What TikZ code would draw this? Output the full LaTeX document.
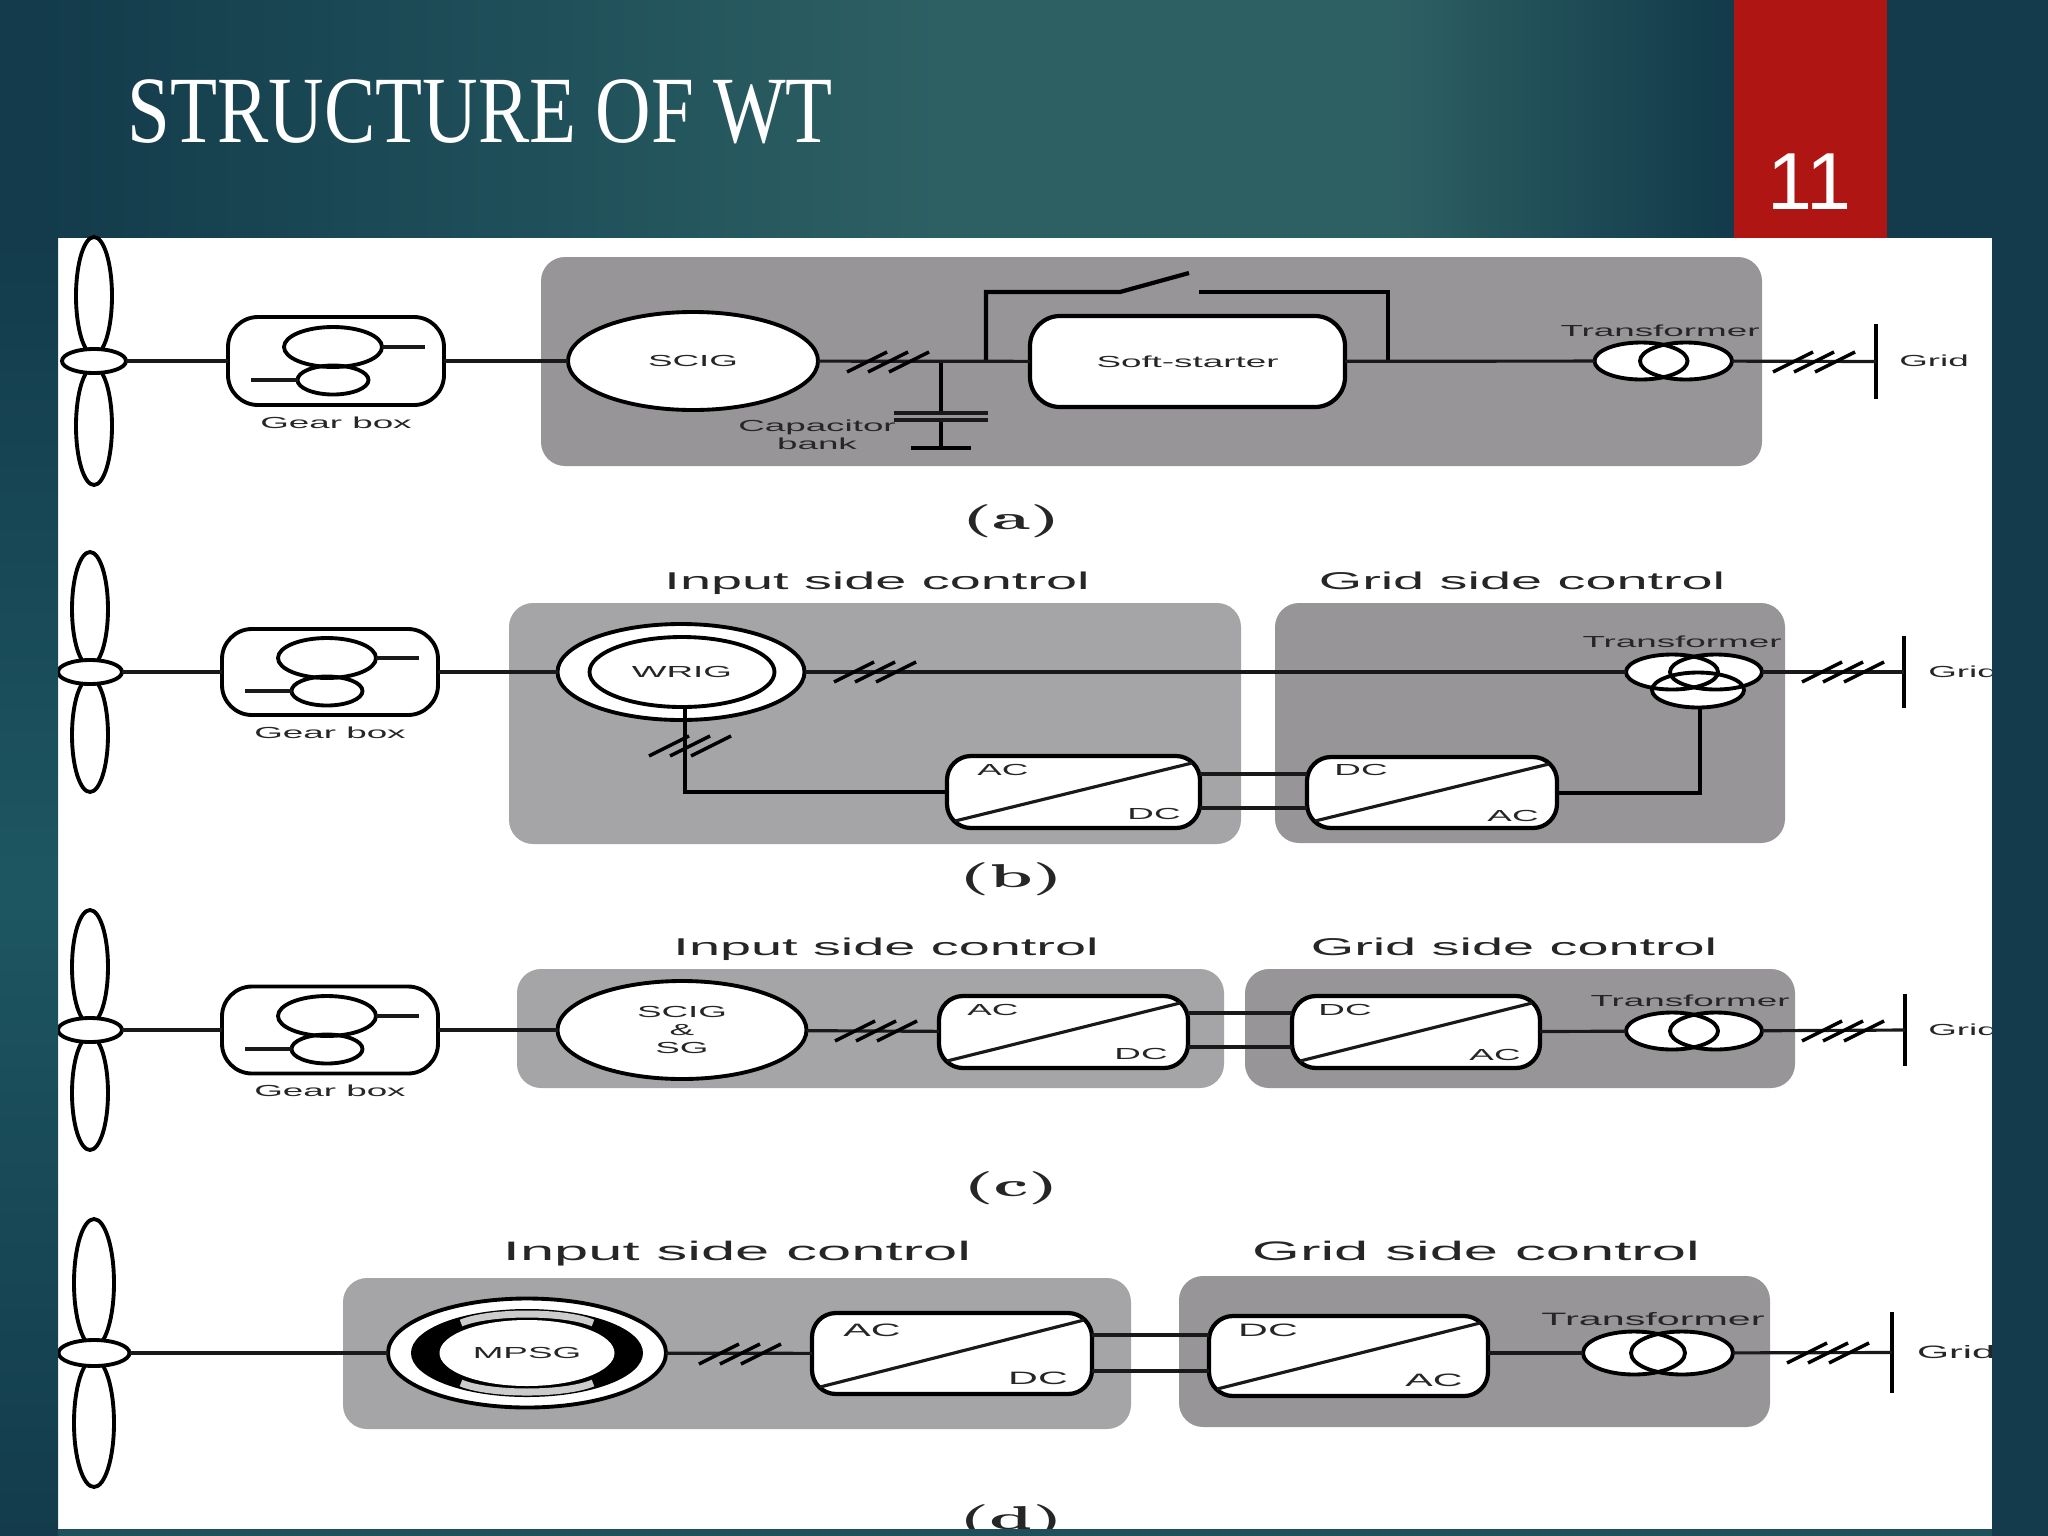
\documentclass[tikz,border=0pt]{standalone}
\usepackage{fontspec}
\usepackage{xcolor}
\usetikzlibrary{positioning,shapes.geometric,calc}
\newfontfamily\diagfont[FakeStretch=2.3]{Liberation Sans}
\newfontfamily\capfont[FakeStretch=2.0]{Latin Modern Roman}
\newfontfamily\titlefont[FakeStretch=0.81]{Liberation Serif}
\newfontfamily\numfont{Liberation Sans}
\definecolor{bgdark}{HTML}{133B4B}
\definecolor{bgmid}{HTML}{1F505A}
\definecolor{bglight}{HTML}{2D6063}
\definecolor{sidemid}{HTML}{1D5661}
\definecolor{barred}{HTML}{AF1613}
\definecolor{panellight}{HTML}{A5A4A6}
\definecolor{paneldark}{HTML}{979597}
\definecolor{inkgray}{HTML}{262626}
\pgfdeclarehorizontalshading{slideback}{100bp}{color(0bp)=(bgdark); color(26bp)=(bgdark); color(38bp)=(bgmid); color(48bp)=(bglight); color(59bp)=(bglight); color(67bp)=(bgdark); color(100bp)=(bgdark)}
\tikzset{
  sz/.style 2 args={minimum width=#1*0.01cm,minimum height=#2*0.01cm},
  panel/.style={rectangle,rounded corners=0.24cm,inner sep=0pt,outer sep=0pt},
  blade/.style={ellipse,draw=black,line width=1.1pt,fill=white,inner sep=0pt,outer sep=0pt},
  hubnode/.style={ellipse,draw=black,line width=1.1pt,fill=white,inner sep=0pt,outer sep=0pt},
  gearbox/.style={rectangle,rounded corners=0.3cm,draw=black,line width=1.1pt,fill=white,inner sep=0pt,outer sep=0pt},
  gearwheel/.style={ellipse,draw=black,line width=1.1pt,inner sep=0pt,outer sep=0pt},
  machine/.style={ellipse,draw=black,line width=1.1pt,fill=white,inner sep=0pt,outer sep=0pt,align=center,lab},
  converter/.style={rectangle,rounded corners=0.24cm,draw=black,line width=1.2pt,fill=white,inner sep=0pt,outer sep=0pt},
  coil/.style={ellipse,draw=black,line width=1.1pt,inner sep=0pt,outer sep=0pt},
  coilfill/.style={ellipse,fill=white,inner sep=0pt,outer sep=0pt},
  wire/.style={line width=0.9pt,draw=black!90},
  bus/.style={line width=1.2pt,draw=black},
  lab/.style={font=\diagfont\fontsize{4.55}{5}\selectfont,text=inkgray,inner sep=0pt},
  labbig/.style={font=\diagfont\fontsize{5.1}{6}\selectfont,text=inkgray,inner sep=0pt},
  head/.style={font=\diagfont\fontsize{6.9}{8}\selectfont,text=inkgray,inner sep=0pt},
  headbig/.style={font=\diagfont\fontsize{7.6}{9}\selectfont,text=inkgray,inner sep=0pt},
  subcap/.style={font=\capfont\bfseries\fontsize{9.4}{11}\selectfont,text=inkgray,inner sep=0pt},
  phasemark/.pic={\foreach \d in {-21,0,21}\draw[line width=1pt,draw=black] (\d-20,10) -- (\d+20,-10);}
}
\begin{document}
\begin{tikzpicture}[x=0.01cm,y=-0.01cm]
  \useasboundingbox (0,0) rectangle (2048,1536);
  % slide
  \path[shading=slideback] (0,0) rectangle (2048,1536);
  \fill[barred] (1734,0) rectangle (1887,238);
  \node[font=\titlefont\fontsize{27}{30}\selectfont,text=white,inner sep=0pt,anchor=west] (slidetitle) at (127,112) {STRUCTURE OF WT};
  \node[font=\numfont\fontsize{23}{26}\selectfont,text=white,inner sep=0pt] (slidenum) at (1809,182) {11};
  \fill[white] (58,238) rectangle (1992,1529);
  % panels
  \node[panel,fill=paneldark,sz={1221}{209}] (panela) at (1151.5,361.5) {};
  \node[panel,fill=panellight,sz={732}{241}] (panelb1) at (875,723.5) {};
  \node[panel,fill=paneldark,sz={510}{240}] (panelb2) at (1530,723) {};
  \node[panel,fill=panellight,sz={707}{119}] (panelc1) at (870.5,1028.5) {};
  \node[panel,fill=paneldark,sz={550}{119}] (panelc2) at (1520,1028.5) {};
  \node[panel,fill=panellight,sz={788}{151}] (paneld1) at (737,1353.5) {};
  \node[panel,fill=paneldark,sz={591}{151}] (paneld2) at (1474.5,1351.5) {};
  \node[head] (inb) at (877,583) {Input side control};
  \node[head] (gridb) at (1522,581) {Grid side control};
  \node[head] (inc) at (886,949) {Input side control};
  \node[head] (gridc) at (1514,947) {Grid side control};
  \node[headbig] (ind) at (737,1254) {Input side control};
  \node[headbig] (gridd) at (1476,1251) {Grid side control};
  \node[subcap] (capa) at (1011,521) {(a)};
  \node[subcap] (capb) at (1011,879) {(b)};
  \node[subcap] (capc) at (1011,1188) {(c)};
  \node[subcap] (capd) at (1011,1521) {(d)};
  % turbines
  \foreach \r/\hx/\ly/\bw/\bh/\hw/\hh in {a/94/361/36/118/64/24,b/90/672/36/114/64/24,c/90/1030/36/114/64/24,d/94/1353/40/128/71/26}{
    \coordinate (hubpos\r) at (\hx,\ly);
    \node[blade,sz={\bw}{\bh},above=0.06cm of hubpos\r] (bladeup\r) {};
    \node[blade,sz={\bw}{\bh},below=0.06cm of hubpos\r] (bladedn\r) {};
    \node[hubnode,sz={\hw}{\hh}] (hub\r) at (hubpos\r) {};
  }
  % gear boxes
  \foreach \r/\gx/\ly/\gh in {a/336/361/88,b/330/672/86,c/330/1030/87}{
    \node[gearbox,sz={216}{\gh}] (gear\r) at (\gx,\ly) {};
    \node[gearwheel,sz={98}{40}] (gearup\r) at ($(gear\r.center)+(-3,-14)$) {};
    \node[gearwheel,sz={71}{29}] (geardn\r) at ($(gear\r.center)+(-3,19)$) {};
    \draw[wire] (gearup\r.east) -- ++(43,0);
    \draw[wire] (geardn\r.west) -- ++(-47,0);
    \node[lab,below=0.11cm of gear\r] (gearlab\r) {Gear box};
    \draw[wire] (hub\r) -- (gear\r);
  }
  % machines
  \node[machine,sz={250}{98}] (scig) at (693,361) {SCIG};
  \node[machine,sz={247}{96}] (wrigout) at (681,672) {};
  \node[machine,sz={185}{70}] (wrig) at (682,672) {WRIG};
  \node[machine,sz={249}{98}] (scigsg) at (682,1030) {SCIG\\\&\\SG};
  \node[machine,sz={278}{109}] (mpsgout) at (527,1353) {};
  \node[ellipse,fill=black,inner sep=0pt,sz={232}{88}] (mpsgring) at (527,1353) {};
  \draw[line width=2pt,draw=black!20] (461,1323) .. controls (490,1311) and (564,1311) .. (593,1323);
  \draw[line width=2pt,draw=black!20] (461,1383) .. controls (490,1395) and (564,1395) .. (593,1383);
  \node[machine,draw=none,sz={175}{66}] (mpsg) at (527,1353) {MPSG};
  % converters
  \node[converter,sz={253}{72}] (convb1) at (1073.5,792) {};
  \node[converter,sz={250}{71}] (convb2) at (1432,792.5) {};
  \node[converter,sz={249}{72}] (convc1) at (1063.5,1032) {};
  \node[converter,sz={248}{72}] (convc2) at (1416,1032) {};
  \node[converter,sz={280}{81}] (convd1) at (952,1353.5) {};
  \node[converter,sz={279}{80}] (convd2) at (1348.5,1356) {};
  \foreach \n in {convb1,convb2,convc1,convc2,convd1,convd2}
    \draw[wire] ($(\n.south west)+(8,-7)$) -- ($(\n.north east)+(-8,7)$);
  \node[lab] (b1ac) at (1003,770) {AC};
  \node[lab] (b1dc) at (1154,814) {DC};
  \node[lab] (b2dc) at (1361,770) {DC};
  \node[lab] (b2ac) at (1513,816) {AC};
  \node[lab] (c1ac) at (993,1010) {AC};
  \node[lab] (c1dc) at (1141,1054) {DC};
  \node[lab] (c2dc) at (1345,1010) {DC};
  \node[lab] (c2ac) at (1495,1055) {AC};
  \node[labbig] (d1ac) at (872,1330) {AC};
  \node[labbig] (d1dc) at (1038,1378) {DC};
  \node[labbig] (d2dc) at (1268,1330) {DC};
  \node[labbig] (d2ac) at (1434,1380) {AC};
  % soft-starter and bypass
  \node[converter,rounded corners=0.3cm,lab,sz={315}{91}] (starter) at (1187.5,361.5) {Soft-starter};
  \coordinate (bypassl) at (986,361);
  \coordinate (bypassr) at (1388,361);
  \coordinate (hinge) at (1120,292);
  \coordinate (swtip) at (1189,273);
  \coordinate (contact) at (1199,292);
  \draw[bus] (bypassl) |- (hinge) -- (swtip);
  \draw[bus] (contact) -| (bypassr);
  % capacitor bank
  \coordinate (captap) at (941,361);
  \node[inner sep=0pt,sz={93}{0}] (plateup) at (941,413) {};
  \node[inner sep=0pt,sz={93}{0}] (platedn) at (941,420) {};
  \node[inner sep=0pt,sz={58}{0}] (capgnd) at (941,448) {};
  \draw[bus] (captap) -- (plateup.center);
  \draw[bus] (platedn.center) -- (capgnd.center);
  \draw[wire] (plateup.west) -- (plateup.east);
  \draw[wire] (platedn.west) -- (platedn.east);
  \draw[bus] (capgnd.west) -- (capgnd.east);
  \node[lab,align=center] (caplab) at (817,435) {Capacitor\\bank};
  % transformers
  \def\coillist{ta1/1641/361/93/37,ta2/1686/361/92/37,tb3/1698/690/92/35,tb1/1672/672/92/35,tb2/1716/672/92/35,tc1/1672/1031/92/37,tc2/1716/1031/92/37,td1/1634/1353/102/43,td2/1682/1353/102/43}
  \foreach \n/\x/\y/\w/\h in \coillist
    \node[coilfill,sz={\w}{\h}] at (\x,\y) {};
  \foreach \n/\x/\y/\w/\h in \coillist
    \node[coil,sz={\w}{\h}] (\n) at (\x,\y) {};
  \node[lab] (tlaba) at (1660,331) {Transformer};
  \node[lab] (tlabb) at (1682,642) {Transformer};
  \node[lab] (tlabc) at (1690,1001) {Transformer};
  \node[labbig] (tlabd) at (1653,1319) {Transformer};
  % grid bars
  \node[inner sep=0pt,sz={0}{73}] (barA) at (1876,361.5) {};
  \node[inner sep=0pt,sz={0}{70}] (barB) at (1904,672) {};
  \node[inner sep=0pt,sz={0}{70}] (barC) at (1905,1030) {};
  \node[inner sep=0pt,sz={0}{79}] (barD) at (1892,1352.5) {};
  \foreach \n in {barA,barB,barC,barD}
    \draw[bus] (\n.north) -- (\n.south);
  \node[lab] (grida) at (1934,361) {Grid};
  \node[lab] (gridlb) at (1963,672) {Grid};
  \node[lab] (gridlc) at (1963,1030) {Grid};
  \node[labbig] (gridld) at (1956,1352) {Grid};
  % connectors
  \draw[wire] (geara) -- (scig);
  \draw[wire] (scig) -- (starter);
  \draw[wire] (starter) -- (ta1);
  \draw[wire] (ta2) -- (barA.center);
  \draw[wire] (gearb) -- (wrigout);
  \draw[wire] (wrigout) -- (tb1);
  \draw[wire] (tb2) -- (barB.center);
  \coordinate (rotortap) at (685,707);
  \coordinate (rotorturn) at (685,792);
  \draw[bus] (rotortap) -- (rotorturn) -- (convb1.west);
  \draw[wire] (convb1.east |- 0,774) -- (convb2.west |- 0,774);
  \draw[wire] (convb1.east |- 0,808) -- (convb2.west |- 0,808);
  \coordinate (tertiary) at (1700,793);
  \draw[bus] (convb2.east |- tertiary) -- (tertiary) -- (tb3.south -| tertiary);
  \draw[wire] (gearc) -- (scigsg);
  \draw[wire] (scigsg) -- (convc1);
  \draw[wire] (convc1.east |- 0,1013) -- (convc2.west |- 0,1013);
  \draw[wire] (convc1.east |- 0,1047) -- (convc2.west |- 0,1047);
  \draw[wire] (convc2) -- (tc1);
  \draw[wire] (tc2) -- (barC.center);
  \draw[wire] (hubd) -- (mpsgout);
  \draw[wire] (mpsgout) -- (convd1);
  \draw[wire] (convd1.east |- 0,1335) -- (convd2.west |- 0,1335);
  \draw[wire] (convd1.east |- 0,1371) -- (convd2.west |- 0,1371);
  \draw[wire] (convd2.east |- td1.west) -- (td1.west);
  \draw[wire] (td2) -- (barD.center);
  % phase marks
  \foreach \mx/\my in {888/362,1814/362,875/672,1843/672,690/746,876/1031,1843/1031,740/1354,1828/1353}
    \pic at (\mx,\my) {phasemark};
  % slide edges over the sheet
  \fill[bgdark] (1992,238) rectangle (2048,1536);
  \shade[top color=bgdark,bottom color=bgdark,middle color=sidemid] (0,238) rectangle (58,1536);
  \fill[bgmid] (58,1529) rectangle (1992,1536);
\end{tikzpicture}
\end{document}
